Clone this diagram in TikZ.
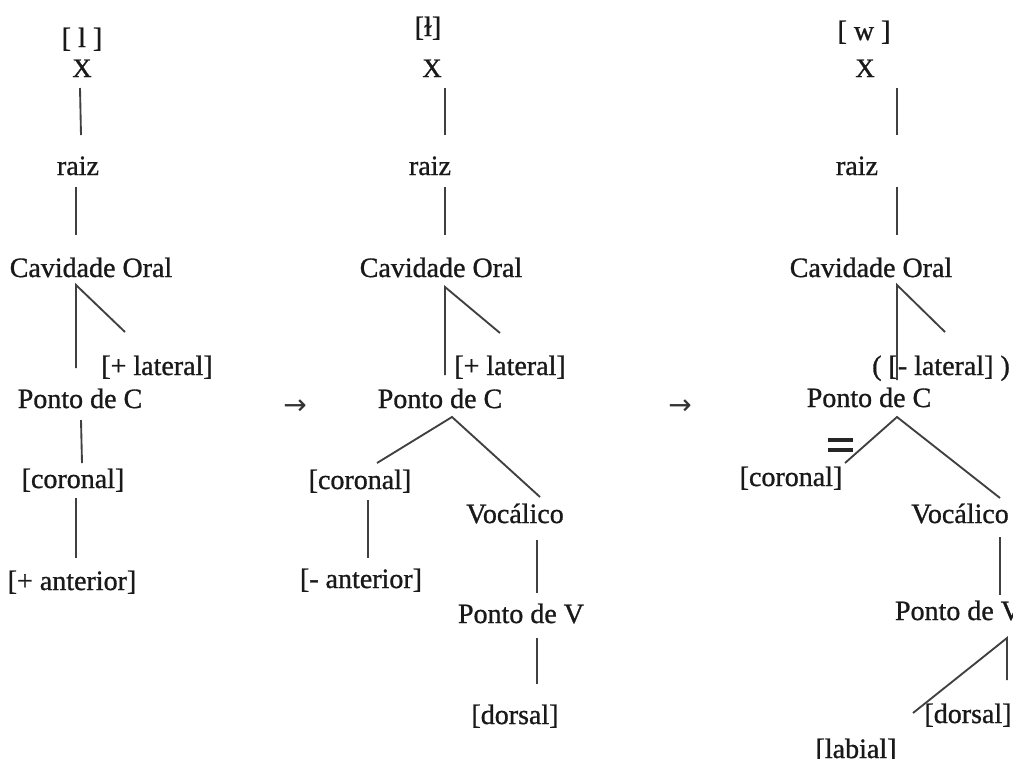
\documentclass[tikz,border=0pt]{standalone}
\usepackage{fontspec}
\setmainfont{Liberation Serif}
\newfontfamily\lblfont{Liberation Serif}[FakeBold=1.0]
\newfontfamily\arrfont{DejaVu Sans}
\begin{document}
\begin{tikzpicture}[x=0.75pt,y=-0.75pt]
\tikzset{
  lbl/.style={inner sep=0pt, anchor=base, font=\lblfont\fontsize{21}{25}\selectfont, text=black!90},
  xl/.style={lbl, font=\lblfont\fontsize{20}{24}\selectfont},
  arr/.style={inner sep=0pt, anchor=base, font=\arrfont\fontsize{21}{24}\selectfont, text=black!80},
  edge/.style={draw=black!75, line width=1.4pt},
  eqbar/.style={draw=black!85, line width=2.6pt},
}
\useasboundingbox (0,0) rectangle (1013,758);
% ---------- Tree 1 ----------
\node[lbl] (s1) at (82,47) {[ l ]};
\node[xl] (x1) at (82,77) {X};
\node[lbl] (r1) at (78,175) {raiz};
\node[lbl] (c1) at (91,277) {Cavidade Oral};
\node[lbl] (l1) at (157,375) {[+ lateral]};
\node[lbl] (p1) at (80,408) {Ponto de C};
\node[lbl] (k1) at (73,488) {[coronal]};
\node[lbl] (a1) at (72,590) {[+ anterior]};
\coordinate (x1b) at (80,88);  \coordinate (r1t) at (81,135);
\coordinate (r1b) at (76,187); \coordinate (c1t) at (76,235);
\coordinate (c1a) at (76,285); \coordinate (c1v) at (76,368); \coordinate (c1d) at (125,332);
\coordinate (p1b) at (81,420); \coordinate (k1t) at (82,463);
\coordinate (k1b) at (76,498); \coordinate (a1t) at (76,558);
\draw[edge] (x1b) -- (r1t);
\draw[edge] (r1b) -- (c1t);
\draw[edge] (c1v) -- (c1a) -- (c1d);
\draw[edge] (p1b) -- (k1t);
\draw[edge] (k1b) -- (a1t);
% arrows
\node[arr] (ar1) at (295,414) {→};
\node[arr] (ar2) at (680,414) {→};
% ---------- Tree 2 ----------
\node[lbl] (s2) at (428,36) {[ɫ]};
\node[xl] (x2) at (432,77) {X};
\node[lbl] (r2) at (430,175) {raiz};
\node[lbl] (c2) at (441,277) {Cavidade Oral};
\node[lbl] (l2) at (510,375) {[+ lateral]};
\node[lbl] (p2) at (440,408) {Ponto de C};
\node[lbl] (k2) at (360,489) {[coronal]};
\node[lbl] (a2) at (361,588) {[- anterior]};
\node[lbl] (v2) at (515,523) {Vocálico};
\node[lbl] (pv2) at (521,623) {Ponto de V};
\node[lbl] (d2) at (515,724) {[dorsal]};
\coordinate (x2b) at (445,88);  \coordinate (r2t) at (445,135);
\coordinate (r2b) at (445,187); \coordinate (c2t) at (445,235);
\coordinate (c2a) at (445,287); \coordinate (c2v) at (445,375); \coordinate (c2d) at (500,333);
\coordinate (p2a) at (452,417); \coordinate (k2t) at (377,463); \coordinate (v2t) at (540,497);
\coordinate (k2b) at (368,500); \coordinate (a2t) at (368,558);
\coordinate (v2b) at (537,540); \coordinate (pv2t) at (537,593);
\coordinate (pv2b) at (537,638); \coordinate (d2t) at (537,684);
\draw[edge] (x2b) -- (r2t);
\draw[edge] (r2b) -- (c2t);
\draw[edge] (c2v) -- (c2a) -- (c2d);
\draw[edge] (k2t) -- (p2a) -- (v2t);
\draw[edge] (k2b) -- (a2t);
\draw[edge] (v2b) -- (pv2t);
\draw[edge] (pv2b) -- (d2t);
% ---------- Tree 3 ----------
\node[lbl] (s3) at (864,40) {[ w ]};
\node[xl] (x3) at (865,77) {X};
\node[lbl] (r3) at (857,175) {raiz};
\node[lbl] (c3) at (871,277) {Cavidade Oral};
\node[lbl] (l3) at (941,375) {( [- lateral] )};
\node[lbl] (p3) at (869,407) {Ponto de C};
\node[lbl] (k3) at (791,486) {[coronal]};
\node[lbl] (v3) at (960,523) {Vocálico};
\node[lbl] (pv3) at (958,620) {Ponto de V};
\node[lbl] (d3) at (968,723) {[dorsal]};
\node[lbl] (lb3) at (856,758) {[labial]};
\coordinate (x3b) at (897,88);  \coordinate (r3t) at (897,135);
\coordinate (r3b) at (897,187); \coordinate (c3t) at (897,235);
\coordinate (c3a) at (897,285); \coordinate (c3v) at (897,380); \coordinate (c3d) at (945,332);
\coordinate (p3a) at (897,417); \coordinate (k3t) at (845,463); \coordinate (v3t) at (1000,498);
\coordinate (v3b) at (1000,537); \coordinate (pv3t) at (1000,595);
\coordinate (pv3a) at (1007,638); \coordinate (d3t) at (1007,680); \coordinate (lb3t) at (913,713);
\coordinate (eqa) at (828,440); \coordinate (eqb) at (853,440);
\coordinate (eqc) at (828,450); \coordinate (eqd) at (853,450);
\draw[edge] (x3b) -- (r3t);
\draw[edge] (r3b) -- (c3t);
\draw[edge] (c3v) -- (c3a) -- (c3d);
\draw[edge] (k3t) -- (p3a) -- (v3t);
\draw[edge] (v3b) -- (pv3t);
\draw[edge] (d3t) -- (pv3a) -- (lb3t);
\draw[eqbar] (eqa) -- (eqb);
\draw[eqbar] (eqc) -- (eqd);
\end{tikzpicture}
\end{document}
